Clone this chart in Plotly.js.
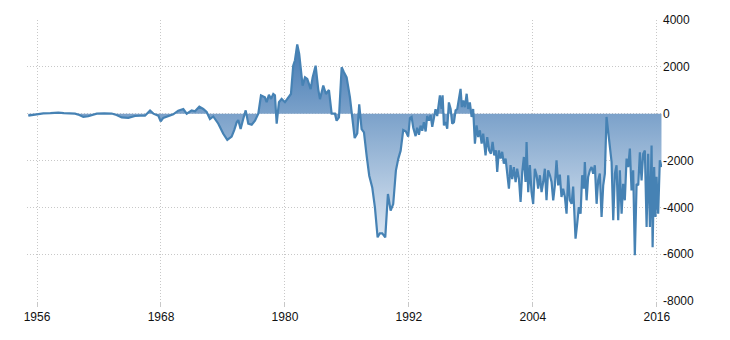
<!DOCTYPE html>
<html>
<head>
<meta charset="utf-8">
<script src="https://cdn.plot.ly/plotly-3.0.1.min.js"></script>
<style>html,body{margin:0;padding:0;background:#fff;}#chart{width:730px;height:340px;}</style>
</head>
<body>
<div id="chart"></div>
<script>
const years = [
1955.16,1955.6,1956.29,1956.61,1957.3,1958.06,1958.6,1959.19,1959.68,1960.1,1960.48,1960.96,1961.4,1961.78,1962.5,1963.23,1963.7,1964.2,1964.84,1965.48,1966.0,1966.45,1966.94,1967.26,1967.74,1967.97,1968.22,1968.7,1969.19,1969.67,
1970.16,1970.49,1970.97,1971.29,1971.71,1972.09,1972.42,1972.74,1973.06,1973.55,1974.03,1974.42,1974.84,1975.09,1975.33,1975.48,1975.71,1975.96,1976.2,1976.45,1976.78,1977.1,1977.42,1977.68,1978.06,1978.23,1978.45,1978.65,1978.87,1979.03,1979.2,1979.42,1979.68,1980.0,1980.32,1980.58,1980.8,1980.97,1981.19,1981.38,1981.71,1981.94,1982.16,1982.49,1982.68,1982.97,1983.22,
1983.39,1983.71,1983.97,1984.26,1984.52,1984.84,1985.0,1985.23,1985.49,1985.71,1985.97,1986.29,1986.51,1986.75,1987.0,1987.19,1987.42,1987.65,1987.91,1988.16,1988.45,1988.71,1988.97,1989.19,1989.42,1989.71,1989.97,1990.23,1990.48,1990.74,1990.97,1991.2,1991.45,1991.71,1991.93,1992.1,1992.26,1992.42,1992.65,1992.8,1992.97,1993.13,1993.29,1993.45,1993.62,1993.77,1993.94,1994.1,1994.26,1994.42,1994.58,1994.74,1994.9,
1995.0,1995.16,1995.26,1995.39,1995.55,1995.71,1995.87,1996.04,1996.19,1996.36,1996.52,1996.68,1996.84,1997.0,1997.13,1997.26,1997.42,1997.59,1997.74,1997.9,1998.07,1998.22,1998.39,1998.55,1998.71,1998.87,1999.04,1999.19,1999.42,1999.58,1999.77,1999.94,2000.1,2000.26,2000.42,2000.55,2000.71,2000.88,2001.03,2001.19,2001.36,2001.51,2001.68,2001.84,2002.0,2002.16,2002.33,2002.48,2002.65,2002.81,2002.97,2003.13,2003.29,2003.39,2003.55,2003.71,2003.87,2004.03,2004.19,2004.36,2004.51,2004.68,2004.84,2005.0,2005.16,2005.32,2005.48,2005.65,2005.81,2005.97,2006.13,2006.29,2006.45,
2006.61,2006.77,2006.93,2007.1,2007.26,2007.42,2007.58,2007.75,2007.9,2008.13,2008.29,2008.45,2008.62,2008.77,2008.94,2009.03,2009.2,2009.35,2009.52,2009.68,2009.84,2010.0,2010.17,2010.32,2010.48,2010.65,2010.81,2010.97,2011.13,2011.29,2011.45,2011.62,2011.78,2011.94,2012.1,2012.26,2012.42,2012.59,2012.74,2012.9,2013.07,2013.23,2013.39,2013.55,2013.71,2013.87,2014.04,2014.2,2014.36,2014.52,2014.68,2014.84,2015.01,2015.16,2015.33,2015.49,2015.59,2015.74,2015.87,2015.97,2016.13,2016.29,2016.45
];
const balance = [
-85,-60,0,15,20,45,25,10,0,-60,-140,-110,-40,0,10,5,-60,-160,-180,-100,-90,-85,130,0,-85,-330,-180,-90,-30,130,
200,0,140,100,300,200,70,-230,-120,-430,-860,-1120,-980,-700,-370,-270,-650,-230,140,-430,-470,-300,0,780,700,490,810,630,840,780,-430,490,630,490,700,840,2050,2280,2960,2550,1200,1550,1480,1050,1550,2050,1050,
620,1200,840,1010,0,0,-300,-160,1980,1770,1550,700,-230,-1040,-840,400,-660,-800,-1800,-2650,-3150,-4000,-5280,-5110,-5110,-5280,-3430,-4140,-3860,-2430,-1930,-1580,-700,-760,-980,-190,-140,-600,-960,-600,-900,-510,-730,-370,-760,-100,-300,-60,-560,-230,190,-100,480,
780,200,780,-500,-360,-640,480,200,-430,-360,140,200,640,1060,280,560,280,850,200,480,-140,200,-1280,-500,-1000,-710,-1280,-850,-1780,-1000,-1570,-1710,-1210,-1780,-1570,-2490,-1570,-1920,-1630,-2130,-1920,-2630,-3200,-2200,-2790,-2280,-2920,-2350,-2790,-3770,-2490,-1850,-2920,-1210,-3350,-2200,-3350,-3860,-2350,-2630,-3200,-2630,-3350,-2920,-2350,-3700,-2420,-2630,-2920,-3700,-3060,-1990,-3060,
-2600,-3560,-3200,-3560,-4270,-2630,-3700,-3850,-3110,-5340,-4700,-3990,-4270,-2630,-3200,-2070,-3700,-2700,-2420,-2280,-2560,-2200,-3850,-2850,-2560,-4410,-3060,-2560,-140,-780,-1650,-2070,-4550,-2560,-2200,-4550,-2420,-4270,-3000,-3700,-1920,-2280,-1490,-3280,-2420,-6050,-3000,-3060,-1650,-2850,-1710,-1570,-4840,-1710,-4840,-1360,-5700,-2280,-4410,-2700,-4270,-1990,-2280
];
const xTicks = [1956, 1968, 1980, 1992, 2004, 2016];
const yTicks = [-8000, -6000, -4000, -2000, 0, 2000, 4000];
const yTickText = ['-8000', '-6000', '-4000', '-2000', '0', '2000', '4000'];

const trace = {
  x: years, y: balance, type: 'scatter', mode: 'lines',
  line: {color: '#4682b4', width: 2.2},
  fill: 'tozeroy',
  fillgradient: {type: 'vertical', start: -6200, stop: 3000,
    colorscale: [[0, 'rgb(236,242,249)'], [1, 'rgb(68,122,179)']]},
  hoverinfo: 'x+y'
};
const layout = {
  width: 730, height: 340,
  margin: {l: 27, r: 68, t: 20, b: 39},
  paper_bgcolor: '#fff', plot_bgcolor: '#fff',
  showlegend: false,
  font: {family: 'Liberation Sans, Arial, sans-serif', size: 12, color: '#111'},
  xaxis: {
    range: [1955.03, 2016.5], tickvals: xTicks, ticktext: xTicks.map(String),
    showgrid: true, gridcolor: '#c8c8c8', griddash: '1px,2px', gridwidth: 1,
    ticks: 'outside', ticklen: 5, tickcolor: '#c8c8c8',
    zeroline: false, showline: false, fixedrange: true
  },
  yaxis: {
    side: 'right', range: [-8000, 4000], tickvals: yTicks, ticktext: yTickText,
    showgrid: true, gridcolor: '#c8c8c8', griddash: '1px,2px', gridwidth: 1,
    ticks: '', zeroline: false, showline: false, fixedrange: true
  }
};
Plotly.newPlot('chart', [trace], layout, {displayModeBar: false, staticPlot: true});
</script>
</body>
</html>
